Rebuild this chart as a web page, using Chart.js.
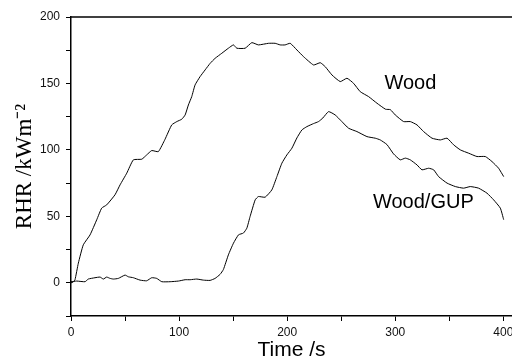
<!DOCTYPE html>
<html>
<head>
<meta charset="utf-8">
<script src="https://cdn.jsdelivr.net/npm/chart.js@4/dist/chart.umd.min.js"></script>
<style>
html,body{margin:0;padding:0;background:#fff;}
#c{display:block;}
</style>
</head>
<body>
<canvas id="c" width="512" height="363"></canvas>
<script>
// ---- data ----
const woodTime = [0,2,3.7,6.8,11.4,17.6,23.8,28.4,33,40.7,45.4,51.6,57.7,65.5,70,74.7,80.8,87,93.2,97.9,102.5,105.6,108.6,111.7,114.8,119.4,124.1,128.7,133.3,139.5,145.6,150.3,153.4,161.1,167.3,173.4,182.7,188.9,193.5,198.1,202.8,209,215.1,224.4,230.6,235.2,241.4,249.1,255.3,261.4,267.6,275.3,283.1,291,295.4,300,307.7,313.9,320.1,326.2,334,341.7,347.9,354,360.2,367.9,375.6,383.3,389.5,395.6,400.3];
const woodRHR = [0,0.5,2.3,14.8,28.6,36,47.4,56.2,58.6,66.2,73.7,82.5,92.5,93,96.2,99.5,98.7,108,118.8,121.3,123.1,126.3,133.8,140.1,148.9,155.1,160.2,165.1,168.9,172.7,176.5,179,176.5,176.5,180.7,179,180.2,180.2,179,179,180.2,175.2,170.2,163.9,165.6,162.6,156.4,151.4,153.9,150.1,143.8,140.1,135.1,130.6,130.3,126.3,121.3,121.3,118.8,113.8,108.8,107.5,108.8,103.8,100,97.5,95,95,91.2,86.2,79.9];
const gupTime = [0,5.3,13,16,22.2,26.9,29.9,33,36.1,39.2,43.8,50,53.1,57.7,63.9,70,74.7,79.3,84,91.7,99.4,105.6,110.2,116.4,122.5,128.7,133.3,137.9,141,145.6,150.3,155,159.5,162.7,165.7,170.4,173.4,179.6,185.8,190.5,195.1,199.7,204.4,209,213.6,218.2,224.4,229,233,238.3,244.4,250.6,256.8,264.5,273.8,281.5,286.1,292.3,298.4,304.6,309.3,313.9,320.1,324.7,330.9,335.5,340.1,347.9,355.6,363.2,369.4,377.1,384.9,391,397.2,400.3];
const gupRHR = [0.8,1.3,0.8,2.8,3.8,4.3,2.8,4.3,3.3,2.8,3.3,5.8,4.5,3.8,2,1.5,3.8,3.3,0.8,0.8,1.3,2.3,2.3,2.8,2,1.8,3.3,6.3,10,21,29.8,36.1,37.4,41.1,49.9,62.4,64.9,64.4,69.9,79.9,90,96.2,101.3,109,115,117.5,119.8,121.3,124,128.8,126.3,121.3,116.3,113.8,110,108.8,107.5,104,97,92.5,93.8,92.5,88.7,85,86.2,85,79.9,75,72.4,71.2,72.4,71.2,67.4,62.4,56.2,47.5];
const seriesNames = ["Wood", "Wood/GUP"];
const xTickValues = [0, 50, 100, 150, 200, 250, 300, 350, 400];
const xLabelStep = 100;
const yTickValues = [-25, 0, 25, 50, 75, 100, 125, 150, 175, 200];
const yLabelStep = 50;

// annotation placement (data units)
const labelSpots = [
  {text: seriesNames[0], x: 314, y: 149.6},
  {text: seriesNames[1], x: 326, y: 60.2}
];

const toPts = (xs, ys) => xs.map((x, i) => ({x: x, y: ys[i]}));

const frameTop = {
  id: 'frameTop',
  afterDraw(chart) {
    const {ctx, chartArea: a, scales} = chart;
    ctx.save();
    ctx.strokeStyle = '#000';
    ctx.lineWidth = 1.5;
    ctx.beginPath();
    ctx.moveTo(a.left, a.top);
    ctx.lineTo(a.right, a.top);
    ctx.stroke();
    ctx.fillStyle = '#000';
    ctx.font = '20px "Liberation Sans", Arial, sans-serif';
    ctx.textAlign = 'center';
    ctx.textBaseline = 'middle';
    labelSpots.forEach(s => {
      ctx.fillText(s.text, scales.x.getPixelForValue(s.x), scales.y.getPixelForValue(s.y));
    });
    ctx.restore();
  }
};

const tickFont = {family: '"Liberation Sans", Arial, sans-serif', size: 12};

new Chart(document.getElementById('c'), {
  type: 'line',
  data: {
    datasets: [
      {label: seriesNames[0], data: toPts(woodTime, woodRHR), borderColor: '#000', borderWidth: 1, pointRadius: 0, tension: 0.15, fill: false},
      {label: seriesNames[1], data: toPts(gupTime, gupRHR), borderColor: '#000', borderWidth: 1, pointRadius: 0, tension: 0.15, fill: false}
    ]
  },
  options: {
    responsive: false,
    animation: false,
    devicePixelRatio: 1,
    layout: {padding: {top: 17, right: 0, bottom: 0, left: 0}},
    plugins: {legend: {display: false}, tooltip: {enabled: false}},
    scales: {
      x: {
        type: 'linear', min: 0, max: 408,
        afterBuildTicks: s => { s.ticks = xTickValues.map(v => ({value: v})); },
        afterFit: s => { s.height = 47; s.paddingLeft = 0; s.paddingRight = 0; },
        ticks: {
          autoSkip: false, maxRotation: 0, color: '#111', font: tickFont, padding: 4,
          callback: v => (v % xLabelStep === 0 ? String(v) : '')
        },
        grid: {display: true, drawOnChartArea: false, drawTicks: true, tickLength: 5, color: '#000', lineWidth: 1},
        border: {display: true, color: '#000', width: 1.5},
        title: {display: true, text: 'Time /s', color: '#000', font: {family: '"Liberation Sans", Arial, sans-serif', size: 21}, padding: {top: 0, bottom: 0}}
      },
      y: {
        type: 'linear', min: -25, max: 200,
        afterBuildTicks: s => { s.ticks = yTickValues.map(v => ({value: v})); },
        afterFit: s => { s.width = 71; s.paddingTop = 0; s.paddingBottom = 0; },
        ticks: {
          autoSkip: false, color: '#111', font: tickFont, padding: 6,
          callback: v => (v % yLabelStep === 0 && v >= 0 ? String(v) : '')
        },
        grid: {display: true, drawOnChartArea: false, drawTicks: true, tickLength: 5, color: '#000', lineWidth: 1},
        border: {display: true, color: '#000', width: 1.5},
        title: {display: true, text: 'RHR /kWm\u207B\u00B2', color: '#000', font: {family: '"Liberation Serif", "Times New Roman", serif', size: 23}, padding: {top: 11, bottom: 0}}
      }
    }
  },
  plugins: [frameTop]
});
</script>
</body>
</html>
